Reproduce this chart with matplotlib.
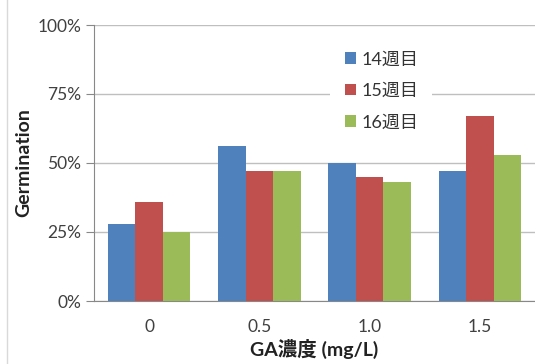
import numpy as np
import matplotlib
matplotlib.use("Agg")
import matplotlib.pyplot as plt
from matplotlib.ticker import PercentFormatter

plt.rcParams['font.family'] = ['Lato', 'Noto Sans CJK JP', 'DejaVu Sans']

# ---- data ----
categories = ["0", "0.5", "1.0", "1.5"]
series_names = ["14週目", "15週目", "16週目"]
week14 = [28, 56, 50, 47]
week15 = [36, 47, 45, 67]
week16 = [25, 47, 43, 53]
series = [week14, week15, week16]
colors = ["#4F81BD", "#C0504D", "#9BBB59"]

fig = plt.figure(figsize=(5.35, 3.64), dpi=100)
ax = fig.add_axes([94 / 535, 1 - 301 / 364, (535 - 94) / 535, 276 / 364])

x = np.arange(len(categories))
w = 0.25
for i, (vals, c, name) in enumerate(zip(series, colors, series_names)):
    ax.bar(x + (i - 1) * w, vals, width=w, color=c, label=name, zorder=3)

ax.set_xlim(-0.5, len(categories) - 0.5)
ax.set_ylim(0, 100)
ax.set_yticks([0, 25, 50, 75, 100])
ax.yaxis.set_major_formatter(PercentFormatter(decimals=0))
ax.set_xticks(x)
ax.set_xticklabels(categories)

ax.grid(axis='y', color='#BFBFBF', linewidth=1, zorder=0)
for s in ['top', 'right']:
    ax.spines[s].set_visible(False)
for s in ['left', 'bottom']:
    ax.spines[s].set_color('#888888')
ax.tick_params(axis='y', length=6, color='#888888', labelsize=12.5, labelcolor='#404040', pad=3)
ax.tick_params(axis='x', length=0, labelsize=12.5, labelcolor='#404040', pad=13)

ax.set_ylabel("Germination", fontsize=14, fontweight='bold', color='#222222', labelpad=4)
ax.set_xlabel("GA濃度 (mg/L)", fontsize=14, fontweight='bold', color='#222222', labelpad=3)

leg = ax.legend(loc='upper left', bbox_to_anchor=(0.536, 0.956), frameon=True, fontsize=13,
                handlelength=0.6, handleheight=0.6, handletextpad=0.3, labelspacing=0.85,
                borderpad=0.8, borderaxespad=0)
leg.get_frame().set_edgecolor('none')
leg.get_frame().set_facecolor('white')
leg.get_frame().set_alpha(1)
leg.set_zorder(5)
for t in leg.get_texts():
    t.set_color('#333333')

# light chart-area border on the left
fig.add_artist(plt.Line2D([7 / 535, 7 / 535], [0, 1], color='#D9D9D9', linewidth=1))

fig.savefig("out.png", dpi=100)
